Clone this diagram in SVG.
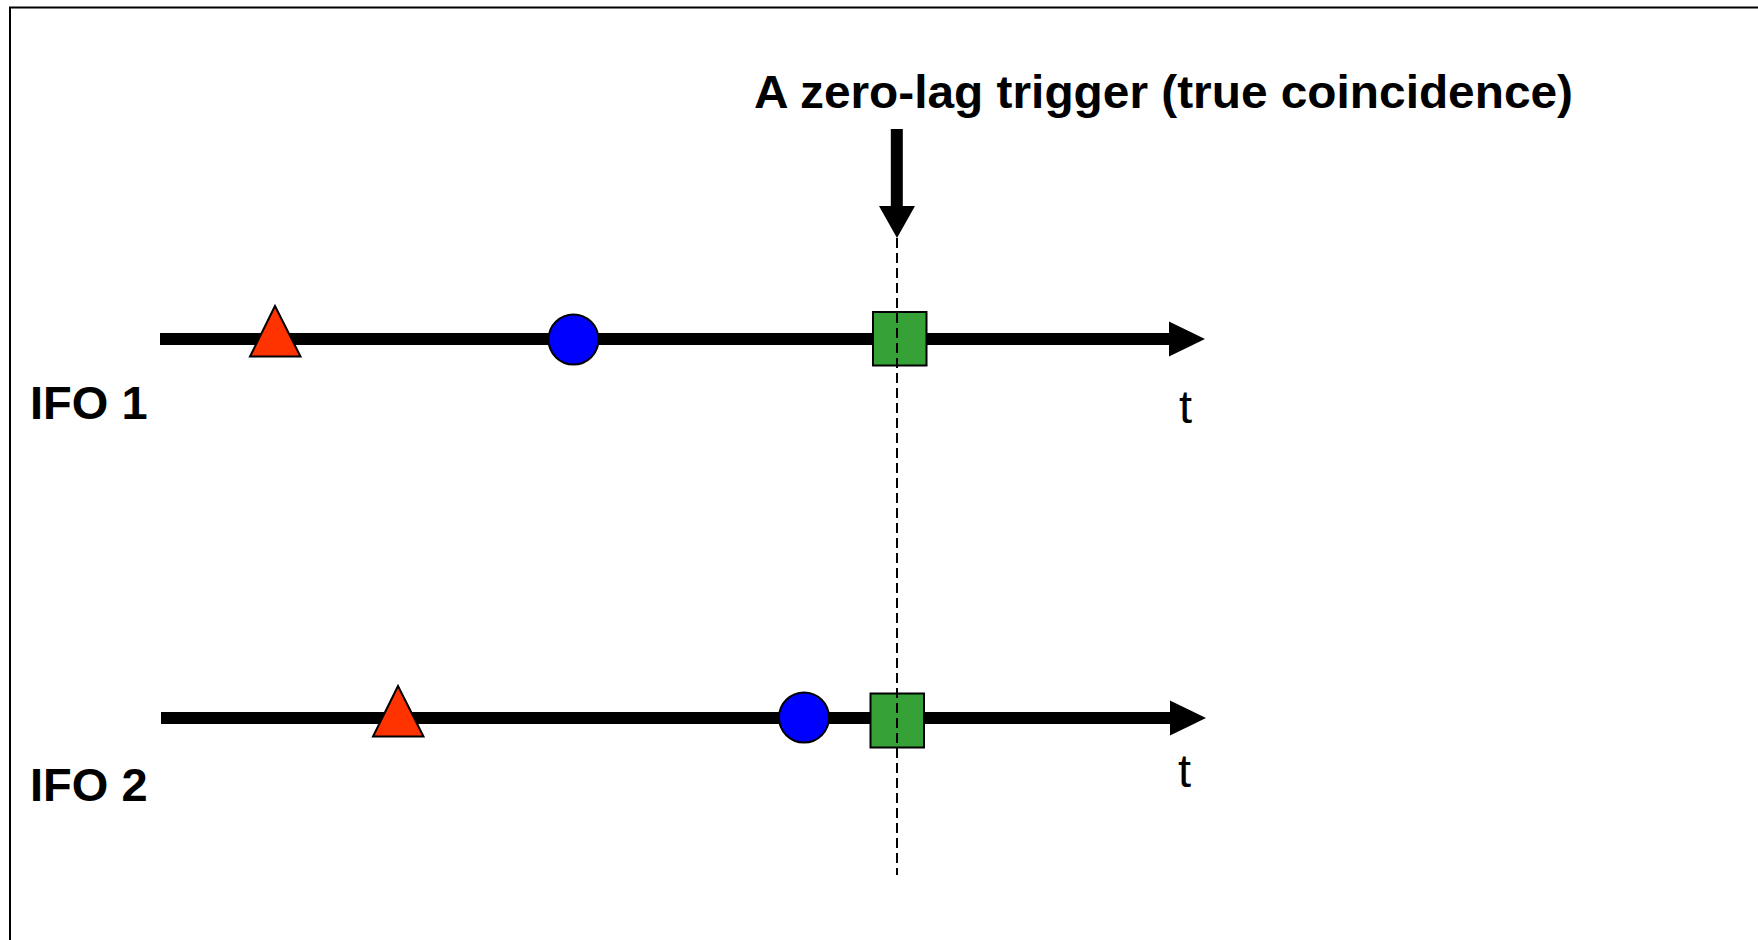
<svg xmlns="http://www.w3.org/2000/svg" width="1758" height="940" viewBox="0 0 1758 940">
<style>
.lbl{font-family:"Liberation Sans",Arial,sans-serif;font-size:47px;fill:#000}
.b{font-weight:bold}
.axis{stroke:#000;stroke-width:12;fill:none}
.tri{fill:#FF3300;stroke:#000;stroke-width:2}
.dot{fill:#0000FF;stroke:#000;stroke-width:2}
.sq{fill:#36A136;stroke:#000;stroke-width:2}
.head{fill:#000}
</style>
<rect x="0" y="0" width="1758" height="940" fill="#fff"/>
<rect x="10" y="7.5" width="1760" height="945" fill="none" stroke="#000" stroke-width="2"/>
<g id="connectors">
  <g id="axis1">
    <line class="axis" x1="160" y1="339" x2="1172" y2="339"/>
    <polygon class="head" points="1169,321.5 1205,339 1169,356.5"/>
  </g>
  <g id="axis2">
    <line class="axis" x1="161" y1="718" x2="1173" y2="718"/>
    <polygon class="head" points="1170,700.5 1206,718 1170,735.5"/>
  </g>
  <g id="trigger-arrow">
    <rect x="890.8" y="129" width="12" height="79" fill="#000"/>
    <polygon class="head" points="879,206 915,206 897,238"/>
  </g>
</g>
<g id="ifo1-triangle"><polygon class="tri" points="275,306 250,356.5 300.5,356.5"/></g>
<g id="ifo1-circle"><circle class="dot" cx="573.5" cy="339.5" r="25"/></g>
<g id="ifo1-square"><rect class="sq" x="873" y="312" width="53.5" height="53.5"/></g>
<g id="ifo2-triangle"><polygon class="tri" points="398,686 373,736.5 423.5,736.5"/></g>
<g id="ifo2-circle"><circle class="dot" cx="804" cy="717.5" r="25"/></g>
<g id="ifo2-square"><rect class="sq" x="870.5" y="693.5" width="53.5" height="54"/></g>
<g id="dashed-line"><line x1="897" y1="238" x2="897" y2="875" stroke="#000" stroke-width="2" stroke-dasharray="10 5"/></g>
<g id="title"><text class="lbl b" x="754" y="108" textLength="819" lengthAdjust="spacingAndGlyphs">A zero-lag trigger (true coincidence)</text></g>
<g id="label-ifo1"><text class="lbl b" x="30" y="419">IFO 1</text></g>
<g id="label-ifo2"><text class="lbl b" x="30" y="801">IFO 2</text></g>
<g id="label-t1"><text class="lbl" x="1179" y="422.5">t</text></g>
<g id="label-t2"><text class="lbl" x="1178" y="786.5">t</text></g>
</svg>
